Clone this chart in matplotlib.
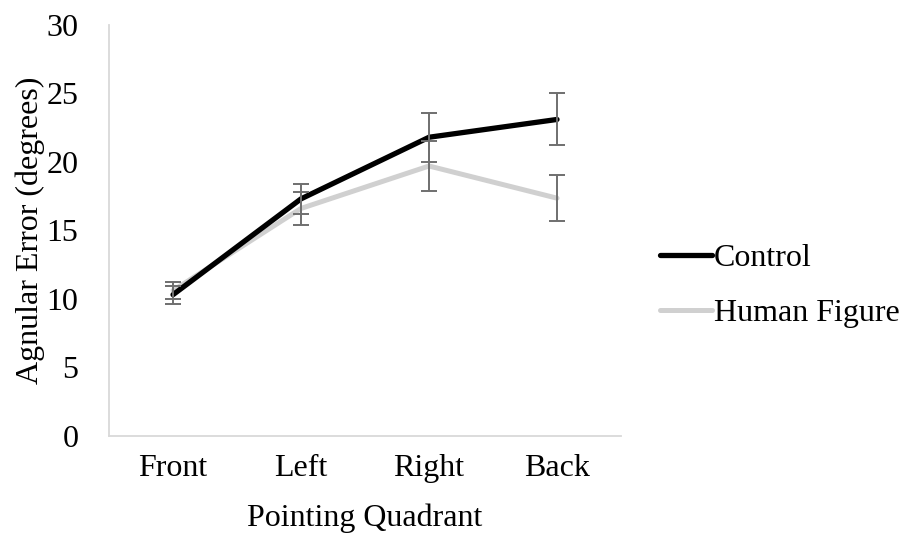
import matplotlib
matplotlib.use("Agg")
import matplotlib.pyplot as plt
import numpy as np

plt.rcParams['font.family'] = ['Liberation Serif', 'DejaVu Serif']

quadrants = ["Front", "Left", "Right", "Back"]
control_mean = [10.3, 17.3, 21.8, 23.1]
control_err = [0.65, 1.1, 1.8, 1.9]
human_mean = [10.6, 16.6, 19.7, 17.35]
human_err = [0.65, 1.2, 1.85, 1.7]
y_ticks = [0, 5, 10, 15, 20, 25, 30]

fig = plt.figure(figsize=(9.07, 5.35), dpi=100)
ax = fig.add_axes([0.1202, 0.1856, 0.5645, 0.7677])

x = np.arange(len(quadrants))
fs = 23

ax.plot(x, human_mean, color="#d0d0d0", lw=3.6, solid_capstyle="round",
        solid_joinstyle="miter", label="Human Figure", zorder=2)
ax.plot(x, control_mean, color="#000000", lw=3.8, solid_capstyle="round",
        solid_joinstyle="miter", label="Control", zorder=3)
ax.errorbar(x, control_mean, yerr=control_err, fmt="none", ecolor="#6f6f6f",
            elinewidth=1.4, capsize=5.5, capthick=1.4, zorder=4)
ax.errorbar(x, human_mean, yerr=human_err, fmt="none", ecolor="#6f6f6f",
            elinewidth=1.4, capsize=5.5, capthick=1.4, zorder=4)

ax.set_xlim(-0.5, len(quadrants) - 0.5)
ax.set_ylim(0, 30)
ax.set_xticks(x)
ax.set_xticklabels(quadrants, fontsize=fs)
ax.set_yticks(y_ticks)
ax.set_yticklabels([str(v) for v in y_ticks], fontsize=fs)
ax.tick_params(axis="both", length=0)
ax.tick_params(axis="y", pad=22)
ax.tick_params(axis="x", pad=13)

for side in ["top", "right"]:
    ax.spines[side].set_visible(False)
for side in ["left", "bottom"]:
    ax.spines[side].set_color("#d9d9d9")
    ax.spines[side].set_linewidth(1.3)

ax.set_xlabel("Pointing Quadrant", fontsize=fs, labelpad=15)
ax.set_ylabel("Agnular Error (degrees)", fontsize=fs, labelpad=1)

handles, labels = ax.get_legend_handles_labels()
order = [1, 0]
ax.legend([handles[i] for i in order], [labels[i] for i in order],
          loc="center left", bbox_to_anchor=(0.728, 0.466),
          bbox_transform=fig.transFigure, frameon=False, fontsize=fs,
          handlelength=1.63, handletextpad=0.05, labelspacing=0.8,
          borderaxespad=0, borderpad=0)

fig.savefig("out.png", dpi=100)
